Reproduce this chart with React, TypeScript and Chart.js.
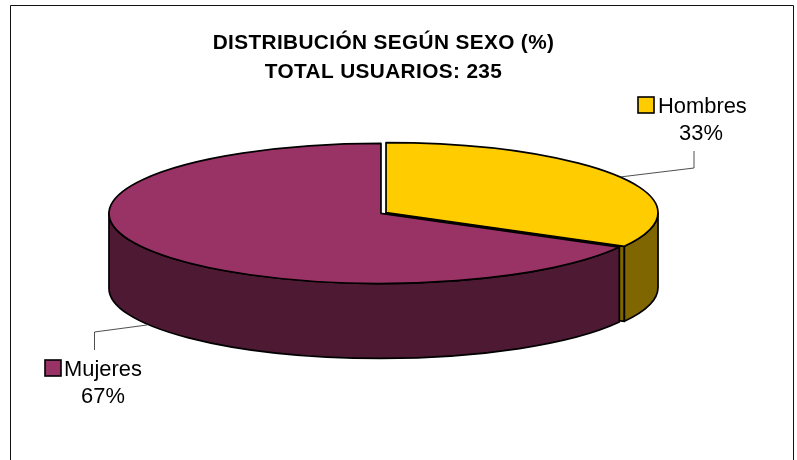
import React, { useEffect, useRef } from "react";
import { Chart, registerables } from "chart.js";

Chart.register(...registerables);

const categories = ["Hombres", "Mujeres"];
const shares = [33, 67];
const titleLines = ["DISTRIBUCIÓN SEGÚN SEXO (%)", "TOTAL USUARIOS: 235"];
const faceColors = ["#FFCC00", "#993366"];
const wallColors = ["#806600", "#4D1933"];

const FONT = "'Liberation Sans', Arial, sans-serif";
const RX = 272;
const RY = 70;
const DEPTH = 75;
const OUTLINE = 1.7;

const labelLayout = [
  { box: [638, 97], textX: 658, base: 113, pctX: 701, leader: [[620, 177], [694, 168], [694, 151]] },
  { box: [45, 360], textX: 64, base: 376, pctX: 103, leader: [[147, 325], [94.5, 332], [94.5, 350]] },
];

const pie3d = {
  id: "pie3d",
  beforeDraw(chart: any) {
    const ctx = chart.ctx;
    ctx.save();
    ctx.strokeStyle = "#111";
    ctx.lineWidth = 1;
    ctx.beginPath();
    ctx.moveTo(10.5, 470);
    ctx.lineTo(10.5, 5.5);
    ctx.lineTo(793.5, 5.5);
    ctx.lineTo(793.5, 470);
    ctx.stroke();
    ctx.restore();
    // the reference title is set slightly wider than the font's own metrics
    ctx.letterSpacing = "0.37px";
  },
  beforeDatasetsDraw(chart: any) {
    const ctx = chart.ctx;
    ctx.letterSpacing = "0px";
    const arcs = chart.getDatasetMeta(0).data;
    const geo = arcs.map((arc: any) => {
      const { x, y, startAngle, endAngle, outerRadius } = arc.getProps(
        ["x", "y", "startAngle", "endAngle", "outerRadius"],
        true
      );
      const kx = RX / outerRadius;
      const ky = RY / outerRadius;
      const t = (arc.options.offset || 0) / 4;
      const mid = (startAngle + endAngle) / 2;
      return {
        cx: x + Math.cos(mid) * t * kx,
        cy: y + Math.sin(mid) * t * ky,
        a0: startAngle,
        a1: endAngle,
      };
    });

    const finish = (fill: string) => {
      ctx.fillStyle = fill;
      ctx.fill();
      ctx.stroke();
    };
    const outerWall = (g: any, s: number, e: number, fill: string) => {
      ctx.beginPath();
      ctx.ellipse(g.cx, g.cy, RX, RY, 0, s, e, false);
      ctx.ellipse(g.cx, g.cy + DEPTH, RX, RY, 0, e, s, true);
      ctx.closePath();
      finish(fill);
    };
    const cutWall = (g: any, a: number, fill: string) => {
      const px = g.cx + RX * Math.cos(a);
      const py = g.cy + RY * Math.sin(a);
      ctx.beginPath();
      ctx.moveTo(g.cx, g.cy);
      ctx.lineTo(px, py);
      ctx.lineTo(px, py + DEPTH);
      ctx.lineTo(g.cx, g.cy + DEPTH);
      ctx.closePath();
      finish(fill);
    };
    const face = (g: any, fill: string) => {
      ctx.beginPath();
      ctx.moveTo(g.cx, g.cy);
      ctx.ellipse(g.cx, g.cy, RX, RY, 0, g.a0, g.a1, false);
      ctx.closePath();
      finish(fill);
    };

    ctx.save();
    ctx.strokeStyle = "#000";
    ctx.lineWidth = OUTLINE;
    ctx.lineJoin = "round";

    const [men, women] = geo;
    cutWall(men, men.a1, wallColors[0]);
    outerWall(men, 0, men.a1, wallColors[0]);
    face(men, faceColors[0]);
    outerWall(women, women.a0, Math.PI, wallColors[1]);
    face(women, faceColors[1]);
    ctx.restore();

    // leader lines and labels
    ctx.save();
    ctx.textBaseline = "alphabetic";
    ctx.font = `21.9px ${FONT}`;
    labelLayout.forEach((l, i) => {
      ctx.strokeStyle = "#222";
      ctx.lineWidth = 0.8;
      ctx.beginPath();
      l.leader.forEach(([x, y], j) => (j ? ctx.lineTo(x, y) : ctx.moveTo(x, y)));
      ctx.stroke();

      ctx.fillStyle = faceColors[i];
      ctx.strokeStyle = "#000";
      ctx.lineWidth = 1.6;
      ctx.fillRect(l.box[0], l.box[1], 16, 16);
      ctx.strokeRect(l.box[0], l.box[1], 16, 16);

      ctx.fillStyle = "#000";
      ctx.textAlign = "left";
      ctx.fillText(categories[i], l.textX, l.base);
      ctx.textAlign = "center";
      ctx.fillText(`${shares[i]}%`, l.pctX, l.base + 26.5);
    });
    ctx.restore();
    return false;
  },
};

export default function App() {
  const ref = useRef<HTMLCanvasElement | null>(null);
  useEffect(() => {
    if (!ref.current) return;
    const chart = new Chart(ref.current, {
      type: "pie",
      data: {
        labels: categories,
        datasets: [
          {
            data: shares,
            backgroundColor: faceColors,
            borderColor: "#000",
            borderWidth: 1,
            offset: 5.3,
          },
        ],
      },
      options: {
        responsive: false,
        animation: false,
        layout: { padding: { left: 0, right: 30, top: 0, bottom: 121 } },
        plugins: {
          legend: { display: false },
          tooltip: { enabled: false },
          title: {
            display: true,
            text: titleLines,
            color: "#000",
            font: { family: FONT, size: 20.8, weight: "bold", lineHeight: 1.394 },
            padding: { top: 29, bottom: 0 },
          },
        },
      },
      plugins: [pie3d],
    } as any);
    return () => chart.destroy();
  }, []);
  return (
    <div style={{ position: "fixed", left: 0, top: 0, width: 797, height: 460 }}>
      <canvas ref={ref} width={797} height={460} style={{ display: "block" }} />
    </div>
  );
}
